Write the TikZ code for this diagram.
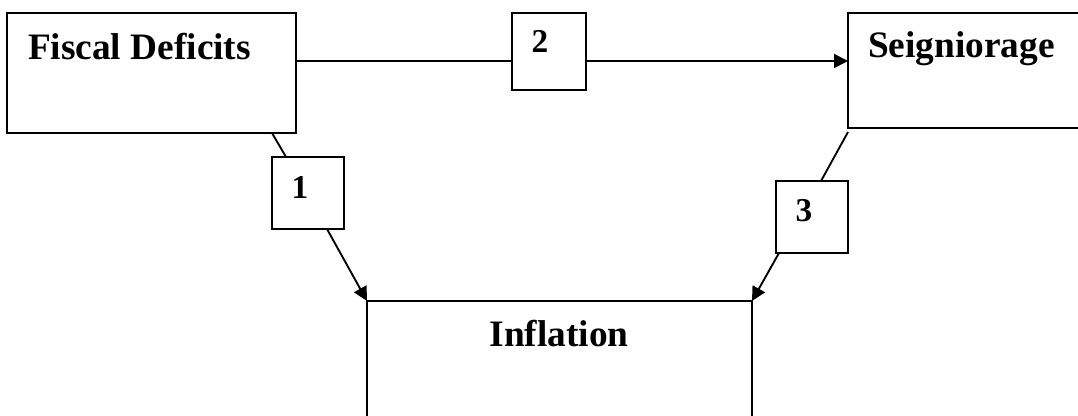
\documentclass[tikz,border=0pt]{standalone}
\usepackage{fontspec}
\setmainfont{Liberation Serif}
\usetikzlibrary{arrows.meta,calc}
\begin{document}
\begin{tikzpicture}[x=0.75pt,y=-0.75pt,
  every node/.style={inner sep=0pt,outer sep=0pt},
  bigbox/.style={draw,line width=1.4pt,fill=white,rectangle},
  numbox/.style={draw,line width=1.4pt,fill=white,rectangle,minimum width=54pt,minimum height=54pt},
  title/.style={font=\fontsize{28}{32}\selectfont\bfseries},
  digit/.style={font=\fontsize{25}{30}\selectfont\bfseries},
  link/.style={line width=1.4pt},
  arrowlink/.style={line width=1.4pt,-{Triangle[length=10.5pt,width=10.5pt]}}]
\useasboundingbox (0,0) rectangle (1078,416);

% main boxes
\node[bigbox,minimum width=216.75pt,minimum height=90pt] (fiscal) at (151.5,73) {};
\node[bigbox,minimum width=189pt,minimum height=86.25pt] (seig) at (974,70.5) {};
\node[bigbox,minimum width=288.75pt,minimum height=104.25pt] (infl) at (559.5,370.5) {};

\node[title,anchor=base west] (tfiscal) at (28,60) {Fiscal Deficits};
\node[title,anchor=base west] (tseig) at (868,58) {Seigniorage};
\node[title,anchor=base] (tinfl) at (559,347) {Inflation};

% numbered link boxes
\node[numbox] (box1) at (308,193) {};
\node[numbox,minimum width=55.5pt,minimum height=57.75pt] (box2) at (549,51.5) {};
\node[numbox] (box3) at (812,217) {};
\node[digit,anchor=base] (d1) at (300,199) {1};
\node[digit,anchor=base] (d2) at (540,53) {2};
\node[digit,anchor=base] (d3) at (804,222) {3};

% connectors
\coordinate (row2) at (0,61);
\draw[link] (fiscal.east |- row2) -- (box2.west |- row2);
\draw[arrowlink] (box2.east |- row2) -- (seig.west |- row2);

\draw[link] ($(fiscal.south east)+(-24,0)$) -- ($(box1.north)+(-22,0)$);
\draw[arrowlink] ($(box1.south)+(19,0)$) -- (infl.north west);

\draw[link] ($(seig.south west)+(0,4)$) -- ($(box3.north)+(9,0)$);
\draw[arrowlink] ($(box3.south)+(-33,0)$) -- (infl.north east);
\end{tikzpicture}
\end{document}
